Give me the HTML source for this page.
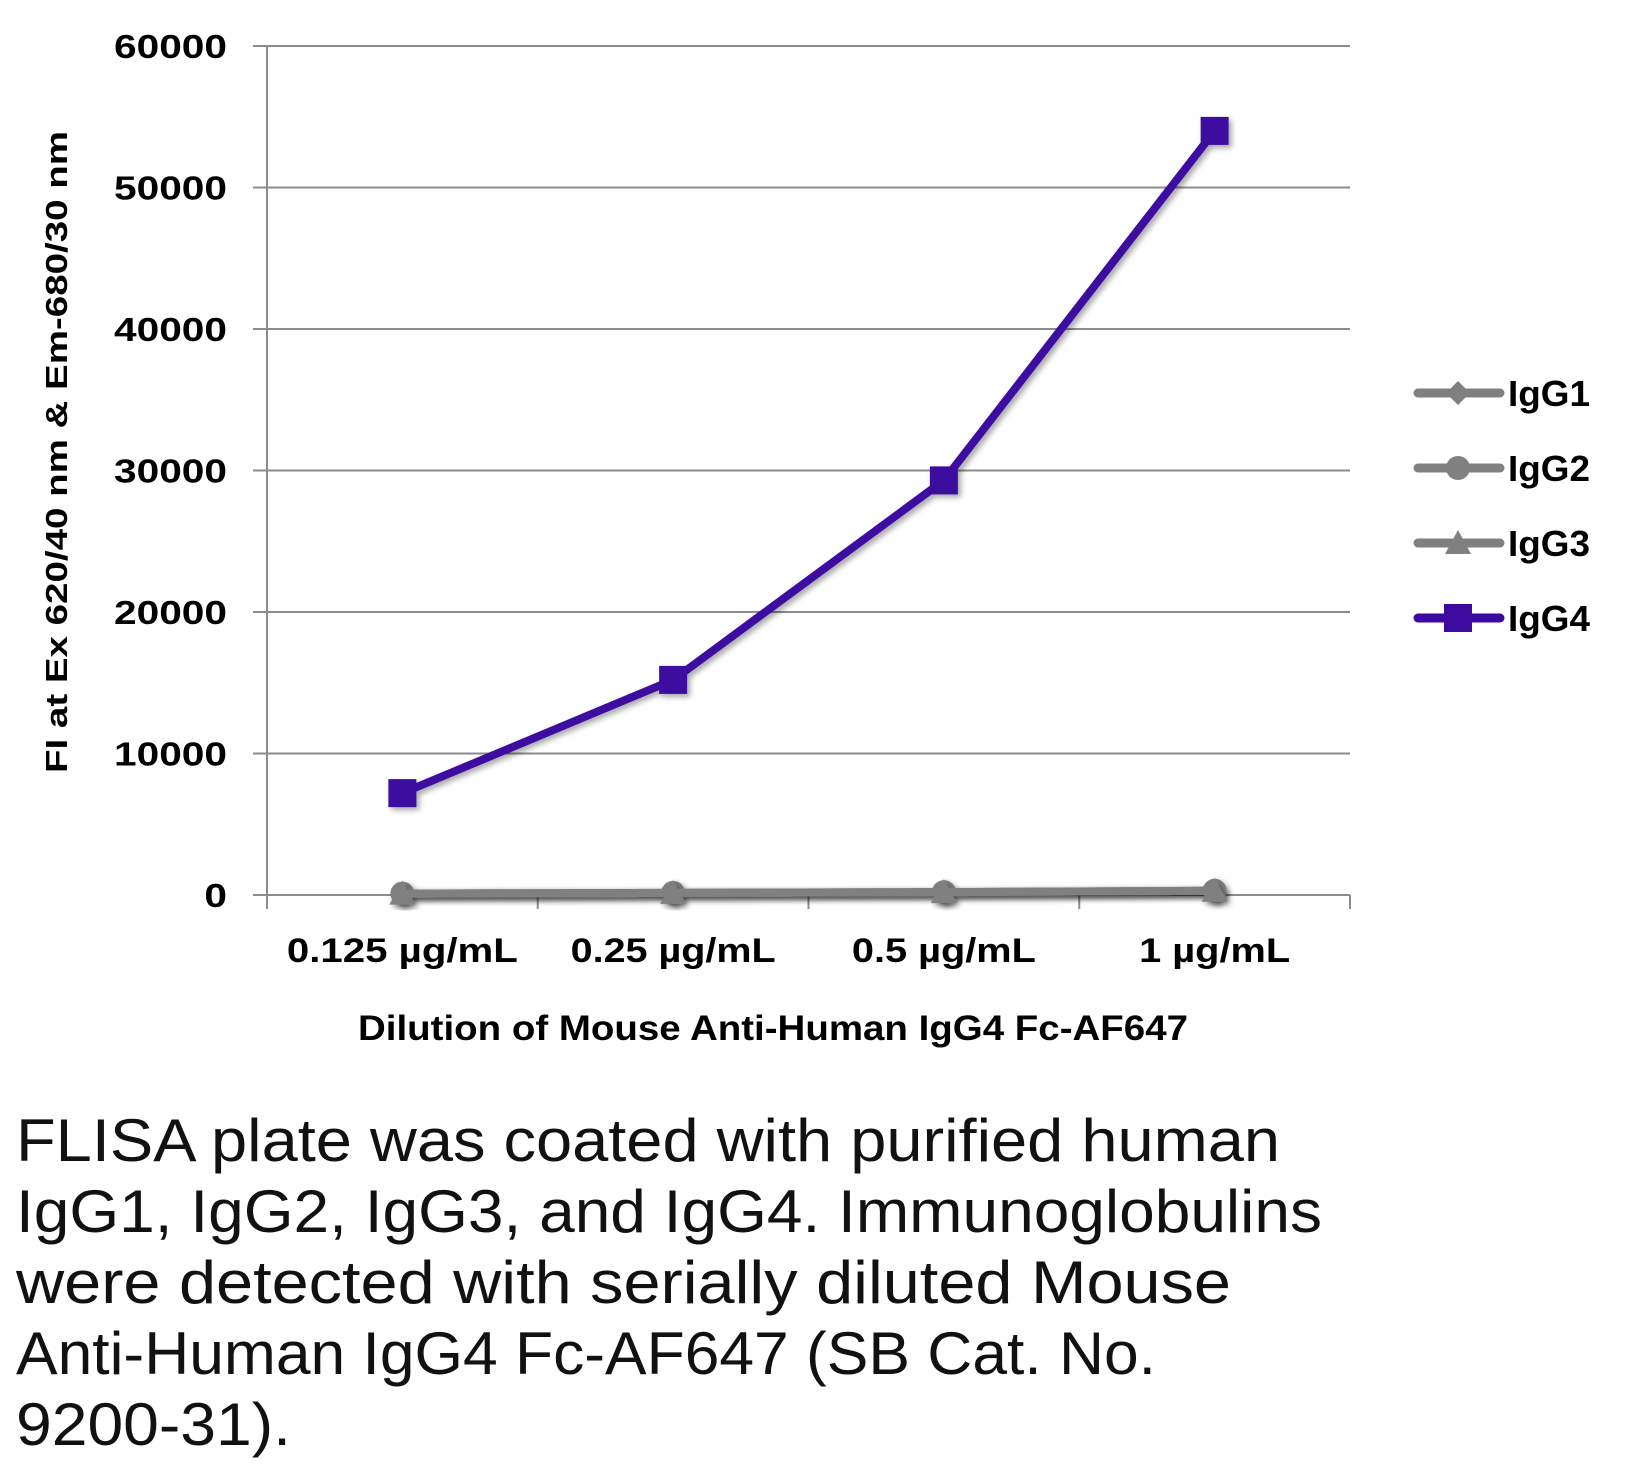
<!DOCTYPE html>
<html><head><meta charset="utf-8"><style>
body{margin:0;background:#fff;width:1626px;height:1466px;overflow:hidden}
svg{display:block}
</style></head><body>
<svg id="chart" width="1626" height="1466" xmlns="http://www.w3.org/2000/svg" font-family="'Liberation Sans', sans-serif">
<defs><filter id="sh" x="-20%" y="-20%" width="140%" height="140%"><feDropShadow dx="3" dy="3" stdDeviation="3" flood-color="#000" flood-opacity="0.35"/></filter></defs>
<g id="grid"></g><g id="axes"></g><g id="series"></g><g id="legend"></g>
<text transform="translate(67,452) rotate(-90)" text-anchor="middle" font-weight="bold" font-size="31" textLength="642" lengthAdjust="spacingAndGlyphs">FI at Ex 620/40 nm &amp; Em-680/30 nm</text>
<text x="773" y="1040" text-anchor="middle" font-weight="bold" font-size="35" textLength="830" lengthAdjust="spacingAndGlyphs">Dilution of Mouse Anti-Human IgG4 Fc-AF647</text>
<g font-size="60" fill="#111">
<text x="16" y="1161" textLength="1264" lengthAdjust="spacingAndGlyphs">FLISA plate was coated with purified human</text>
<text x="16" y="1232" textLength="1306" lengthAdjust="spacingAndGlyphs">IgG1, IgG2, IgG3, and IgG4.  Immunoglobulins</text>
<text x="16" y="1303" textLength="1215" lengthAdjust="spacingAndGlyphs">were detected with serially diluted Mouse</text>
<text x="16" y="1374" textLength="1140" lengthAdjust="spacingAndGlyphs">Anti-Human IgG4 Fc-AF647 (SB Cat. No.</text>
<text x="16" y="1445" textLength="275" lengthAdjust="spacingAndGlyphs">9200-31).</text>
</g>
</svg>
<script>
const categories=["0.125 µg/mL","0.25 µg/mL","0.5 µg/mL","1 µg/mL"];
const yTicks=[0,10000,20000,30000,40000,50000,60000];
const igg1=[100,150,200,300];
const igg2=[100,150,200,300];
const igg3=[100,150,200,300];
const igg4=[7200,15200,29300,54000];
const seriesNames=["IgG1","IgG2","IgG3","IgG4"];
const NS="http://www.w3.org/2000/svg";
const L=267,R=1350,T=46,B=895,YMAX=60000;
const yS=v=>B-(v/YMAX)*(B-T);
const band=(R-L)/categories.length;
const xS=i=>L+band*(i+0.5);
const catW=[231,205,184,151];
function mk(tag,attrs,parent){const e=document.createElementNS(NS,tag);for(const k in attrs)e.setAttribute(k,attrs[k]);parent.appendChild(e);return e;}
const grid=document.getElementById('grid'),axes=document.getElementById('axes'),ser=document.getElementById('series'),leg=document.getElementById('legend');
yTicks.forEach(v=>{
 if(v>0){const g=mk('line',{x1:L-14,x2:R,y1:yS(v),y2:yS(v),stroke:'#8c8c8c','stroke-width':2},grid);
 
 }
 const s=String(v);
 const t=mk('text',{x:227,y:yS(v)+12,'text-anchor':'end','font-weight':'bold','font-size':33,textLength:s.length*22.6,lengthAdjust:'spacingAndGlyphs'},axes);t.textContent=s;
 
 
});
const ya=mk('line',{x1:L,x2:L,y1:T,y2:B+12,stroke:'#8c8c8c','stroke-width':2},axes);


const xa=mk('line',{x1:L-14,x2:R,y1:B,y2:B,stroke:'#8c8c8c','stroke-width':2},axes);


for(let i=0;i<=categories.length;i++){const tk=mk('line',{x1:L+band*i,x2:L+band*i,y1:B,y2:B+14,stroke:'#8c8c8c','stroke-width':2},axes);
 
 }
categories.forEach((c,i)=>{const t=mk('text',{x:xS(i),y:962,'text-anchor':'middle','font-weight':'bold','font-size':34,textLength:catW[i],lengthAdjust:'spacingAndGlyphs'},axes);t.textContent=c;
 
 });
function marker(type,x,y,col,p){
 if(type==0)return mk('polygon',{points:`${x},${y-12} ${x+12},${y} ${x},${y+12} ${x-12},${y}`,fill:col},p);
 if(type==1)return mk('circle',{cx:x,cy:y,r:12,fill:col},p);
 if(type==2)return mk('polygon',{points:`${x},${y-13} ${x+13},${y+11} ${x-13},${y+11}`,fill:col},p);
 return mk('rect',{x:x-14,y:y-14,width:28,height:28,fill:col},p);
}
const data=[igg1,igg2,igg3,igg4];const cols=['#808080','#808080','#808080','#3d0aa0'];
data.forEach((arr,s)=>{
 const g=mk('g',{filter:'url(#sh)'},ser);
 
 
 mk('polyline',{points:arr.map((v,i)=>xS(i)+','+yS(v)).join(' '),fill:'none',stroke:cols[s],'stroke-width':8,'stroke-linejoin':'round'},g);
 arr.forEach((v,i)=>{const m=marker(s,xS(i),yS(v),cols[s],g);
  
  });
 const ly=393+75*s;
 const lg=mk('g',{},leg);
 
 
 mk('line',{x1:1418,x2:1500,y1:ly,y2:ly,stroke:cols[s],'stroke-width':9,'stroke-linecap':'round'},lg);
 marker(s,1458,ly,cols[s],lg);
 const t=mk('text',{x:1508,y:ly+13,'font-weight':'bold','font-size':36,textLength:82,lengthAdjust:'spacingAndGlyphs'},lg);t.textContent=seriesNames[s];
});
</script>
</body></html>
